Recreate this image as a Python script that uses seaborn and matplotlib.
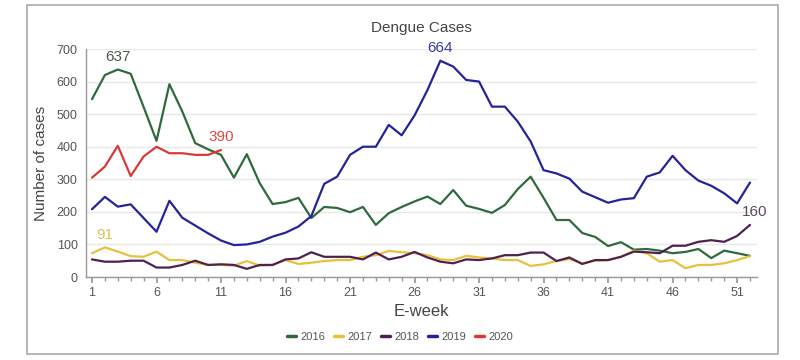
import numpy as np
import pandas as pd
import matplotlib
matplotlib.use("Agg")
import matplotlib.pyplot as plt
from matplotlib.patches import Rectangle
import seaborn as sns

weeks = list(range(1, 53))

cases_2016 = [546, 620, 637, 624, 522, 418, 592, 508, 411, 392, 375, 305, 377, 288, 224, 230, 243, 181,
              215, 212, 199, 215, 160, 196, 215, 232, 247, 224, 267, 219, 209, 197, 221, 270, 308, 243,
              175, 175, 135, 123, 95, 107, 84, 86, 81, 73, 77, 86, 58, 81, 73, 65]
cases_2017 = [73, 91, 78, 64, 62, 78, 52, 52, 44, 37, 37, 35, 49, 35, 37, 52, 40, 44,
              49, 52, 52, 62, 67, 80, 76, 73, 67, 54, 52, 65, 60, 57, 52, 52, 34, 39,
              49, 55, 42, 50, 52, 62, 81, 73, 47, 52, 27, 37, 37, 42, 52, 64]
cases_2018 = [54, 47, 47, 50, 50, 29, 29, 37, 50, 37, 39, 37, 25, 37, 37, 54, 57, 76,
              62, 62, 62, 54, 75, 54, 62, 77, 60, 47, 42, 54, 52, 57, 67, 67, 75, 75,
              49, 60, 40, 52, 52, 62, 78, 76, 73, 96, 96, 108, 113, 108, 126, 160]
cases_2019 = [208, 246, 216, 223, 181, 139, 234, 182, 158, 134, 112, 98, 100, 108, 124, 136, 155, 187,
              286, 308, 375, 400, 400, 467, 435, 496, 574, 664, 646, 605, 600, 523, 523, 477, 416, 328,
              318, 302, 262, 245, 228, 238, 242, 308, 321, 372, 328, 296, 280, 257, 226, 290]
cases_2020 = [305, 339, 403, 310, 370, 400, 380, 380, 375, 375, 390]

years = ["2016", "2017", "2018", "2019", "2020"]
colors = ["#2f6a3c", "#e8c13a", "#4f2150", "#24249a", "#d93a35"]
series = [cases_2016, cases_2017, cases_2018, cases_2019, cases_2020]

rows = []
for yr, vals in zip(years, series):
    for w, v in zip(weeks, vals):
        rows.append({"E-week": w, "cases": v, "year": yr})
df = pd.DataFrame(rows)

sns.set_theme(style="white")
plt.rcParams['font.family'] = ['Liberation Sans', 'DejaVu Sans']

fig = plt.figure(figsize=(8, 3.6), dpi=100)
fig.patch.set_facecolor("white")
ax = fig.add_axes([86/800, 1 - 277/360, (757-86)/800, (277-49)/360])

sns.lineplot(data=df, x="E-week", y="cases", hue="year", palette=dict(zip(years, colors)),
             linewidth=1.6, ax=ax, legend=True)

ax.set_xlim(1 - 6/12.9, 52 + 7/12.9)
ax.set_ylim(0, 700)
ax.set_yticks(range(0, 701, 100))
ax.set_xticks(range(1, 53, 5))
ax.set_xticks(range(1, 53), minor=True)
ax.grid(axis="y", color="#e8e8e8", linewidth=1)
ax.set_axisbelow(True)
for s in ["top", "right"]:
    ax.spines[s].set_visible(False)
for s in ["left", "bottom"]:
    ax.spines[s].set_color("#999999")
    ax.spines[s].set_linewidth(1)
ax.tick_params(axis="x", which="both", direction="out", length=4, color="#999999",
               labelsize=9, labelcolor="#555555", bottom=True, pad=3)
ax.tick_params(axis="x", which="minor", length=3)
ax.tick_params(axis="y", which="both", length=0, labelsize=9, labelcolor="#555555", left=False, pad=6)

ax.set_xlabel("E-week", fontsize=12, color="#444444", labelpad=4)
ax.set_ylabel("Number of cases", fontsize=11, color="#444444", labelpad=6)
ax.set_title("Dengue Cases", fontsize=11, color="#444444", pad=12)

# annotations
ann = [(3, cases_2016[2], "637", "#4a5a4a", 0),
       (28, cases_2019[27], "664", "#3c3ca0", 0),
       (11, cases_2020[10], "390", "#d94a45", 0),
       (2, cases_2017[1], "91", "#d8c050", 0),
       (52, cases_2018[51], "160", "#5a4a5a", 3)]
for w, v, t, c, dx in ann:
    ax.annotate(t, (w, v), xytext=(dx, 4), textcoords="offset points", ha="center", va="bottom",
                fontsize=11, color=c)

leg = ax.legend(title=None, loc="center", bbox_to_anchor=(0.5, 1 - 337/360), bbox_transform=fig.transFigure,
                ncol=5, frameon=False, fontsize=8, handlelength=0.8, handletextpad=0.4, columnspacing=0.8)
for t in leg.get_texts():
    t.set_color("#555555")
for h in leg.get_lines():
    h.set_linewidth(2.5)

fig.patches.append(Rectangle((27/800, 1 - 354/360), (778-27)/800, (354-5)/360, transform=fig.transFigure,
                             fill=False, edgecolor="#aaaaaa", linewidth=1.2))

fig.savefig("out.png", dpi=100, facecolor="white")
